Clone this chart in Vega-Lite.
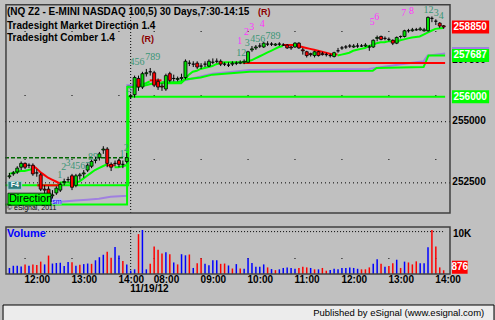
{
  "$schema": "https://vega.github.io/schema/vega-lite/v6.json",
  "width": 495,
  "height": 320,
  "autosize": {"type": "none"},
  "padding": 0,
  "background": "#c0c0c0",
  "config": {"font": "Liberation Sans", "view": {"stroke": null}},
  "datasets": {
    "hours": [{"i": 4, "lab": "12:00"}, {"i": 16, "lab": "13:00"}, {"i": 28, "lab": "14:00"}, {"i": 37, "lab": "08:00"}, {"i": 49, "lab": "09:00"}, {"i": 61, "lab": "10:00"}, {"i": 73, "lab": "11:00"}, {"i": 85, "lab": "12:00"}, {"i": 97, "lab": "13:00"}, {"i": 109, "lab": "14:00"}],
    "plabels": [{"p": 252500}, {"p": 255000}, {"p": 257500}],
    "candles": [
      {"i":0,"o":252730,"h":252886,"l":252652,"c":252769,"v":1410,"vd":"up"},
      {"i":1,"o":252847,"h":252964,"l":252769,"c":252886,"v":1920,"vd":"up"},
      {"i":2,"o":252925,"h":253159,"l":252847,"c":253081,"v":1920,"vd":"up"},
      {"i":3,"o":253120,"h":253354,"l":253003,"c":253276,"v":1730,"vd":"up"},
      {"i":4,"o":253276,"h":253315,"l":253042,"c":253120,"v":2240,"vd":"dn"},
      {"i":5,"o":253198,"h":253276,"l":253081,"c":253198,"v":1920,"vd":"up"},
      {"i":6,"o":253198,"h":253276,"l":252769,"c":252847,"v":2240,"vd":"dn"},
      {"i":7,"o":252886,"h":253042,"l":252730,"c":252886,"v":2120,"vd":"dn"},
      {"i":8,"o":252808,"h":252886,"l":252145,"c":252223,"v":2890,"vd":"dn"},
      {"i":9,"o":252223,"h":252379,"l":251989,"c":252184,"v":2240,"vd":"up"},
      {"i":10,"o":252223,"h":252340,"l":251833,"c":251911,"v":4300,"vd":"dn"},
      {"i":11,"o":251950,"h":252184,"l":251794,"c":251989,"v":2440,"vd":"up"},
      {"i":12,"o":252067,"h":252340,"l":251989,"c":252262,"v":2560,"vd":"up"},
      {"i":13,"o":252184,"h":252496,"l":252106,"c":252418,"v":2630,"vd":"up"},
      {"i":14,"o":252496,"h":252652,"l":252379,"c":252535,"v":1860,"vd":"up"},
      {"i":15,"o":252613,"h":252730,"l":252496,"c":252613,"v":2820,"vd":"up"},
      {"i":16,"o":252769,"h":252847,"l":252184,"c":252301,"v":2760,"vd":"dn"},
      {"i":17,"o":252379,"h":252847,"l":252301,"c":252769,"v":1920,"vd":"up"},
      {"i":18,"o":252769,"h":252886,"l":252613,"c":252808,"v":2180,"vd":"dn"},
      {"i":19,"o":252847,"h":253003,"l":252691,"c":252886,"v":2310,"vd":"up"},
      {"i":20,"o":253003,"h":253276,"l":252925,"c":253198,"v":2440,"vd":"up"},
      {"i":21,"o":253159,"h":253432,"l":253081,"c":253354,"v":2370,"vd":"dn"},
      {"i":22,"o":253393,"h":253549,"l":253276,"c":253432,"v":3200,"vd":"up"},
      {"i":23,"o":253510,"h":253744,"l":253393,"c":253666,"v":3910,"vd":"up"},
      {"i":24,"o":253822,"h":253978,"l":253666,"c":253861,"v":4490,"vd":"up"},
      {"i":25,"o":253861,"h":253939,"l":253120,"c":253276,"v":5190,"vd":"dn"},
      {"i":26,"o":253237,"h":253315,"l":252964,"c":253120,"v":3780,"vd":"dn"},
      {"i":27,"o":253276,"h":253393,"l":253159,"c":253276,"v":6280,"vd":"up"},
      {"i":28,"o":253393,"h":253471,"l":253120,"c":253237,"v":4300,"vd":"up"},
      {"i":29,"o":253237,"h":253393,"l":253081,"c":253237,"v":3010,"vd":"dn"},
      {"i":30,"o":253354,"h":253705,"l":253276,"c":253510,"v":2240,"vd":"up"},
      {"i":31,"o":256006,"h":256123,"l":255928,"c":256045,"v":800,"vd":"up"},
      {"i":32,"o":256084,"h":256864,"l":255967,"c":256786,"v":1090,"vd":"up"},
      {"i":33,"o":256747,"h":256864,"l":256240,"c":256396,"v":9300,"vd":"dn"},
      {"i":34,"o":256396,"h":257020,"l":256318,"c":256942,"v":10260,"vd":"up"},
      {"i":35,"o":256942,"h":257137,"l":256825,"c":256981,"v":1090,"vd":"up"},
      {"i":36,"o":257020,"h":257176,"l":256864,"c":257020,"v":2370,"vd":"dn"},
      {"i":37,"o":256981,"h":257059,"l":256396,"c":256474,"v":6410,"vd":"dn"},
      {"i":38,"o":256630,"h":256747,"l":256279,"c":256396,"v":5640,"vd":"dn"},
      {"i":39,"o":256435,"h":256552,"l":256240,"c":256396,"v":4810,"vd":"dn"},
      {"i":40,"o":256318,"h":256942,"l":256240,"c":256864,"v":5060,"vd":"up"},
      {"i":41,"o":256942,"h":257020,"l":256591,"c":256669,"v":4620,"vd":"dn"},
      {"i":42,"o":256747,"h":256903,"l":256630,"c":256747,"v":2690,"vd":"up"},
      {"i":43,"o":256708,"h":256825,"l":256630,"c":256747,"v":2240,"vd":"dn"},
      {"i":44,"o":256747,"h":256942,"l":256669,"c":256786,"v":4620,"vd":"up"},
      {"i":45,"o":256786,"h":257527,"l":256708,"c":257449,"v":4360,"vd":"up"},
      {"i":46,"o":257371,"h":257488,"l":257254,"c":257371,"v":4550,"vd":"dn"},
      {"i":47,"o":257332,"h":257449,"l":257215,"c":257332,"v":1410,"vd":"up"},
      {"i":48,"o":257371,"h":257449,"l":257137,"c":257215,"v":2500,"vd":"dn"},
      {"i":49,"o":257254,"h":257371,"l":257137,"c":257254,"v":3650,"vd":"dn"},
      {"i":50,"o":257332,"h":257449,"l":257215,"c":257332,"v":2370,"vd":"up"},
      {"i":51,"o":257254,"h":257527,"l":257215,"c":257449,"v":2050,"vd":"up"},
      {"i":52,"o":257410,"h":257566,"l":257332,"c":257410,"v":3200,"vd":"up"},
      {"i":53,"o":257449,"h":257566,"l":257371,"c":257449,"v":3200,"vd":"up"},
      {"i":54,"o":257449,"h":257527,"l":257254,"c":257332,"v":2370,"vd":"dn"},
      {"i":55,"o":257332,"h":257410,"l":257254,"c":257332,"v":2440,"vd":"dn"},
      {"i":56,"o":257293,"h":257410,"l":257215,"c":257293,"v":1990,"vd":"up"},
      {"i":57,"o":257332,"h":257449,"l":257254,"c":257371,"v":1280,"vd":"dn"},
      {"i":58,"o":257371,"h":257449,"l":257293,"c":257371,"v":2310,"vd":"up"},
      {"i":59,"o":257371,"h":257488,"l":257332,"c":257410,"v":1280,"vd":"dn"},
      {"i":60,"o":257410,"h":257527,"l":257332,"c":257449,"v":1220,"vd":"up"},
      {"i":61,"o":257410,"h":257878,"l":257371,"c":257839,"v":3650,"vd":"up"},
      {"i":62,"o":257917,"h":258073,"l":257839,"c":257956,"v":2560,"vd":"up"},
      {"i":63,"o":257995,"h":258112,"l":257917,"c":258034,"v":1670,"vd":"up"},
      {"i":64,"o":258073,"h":258190,"l":257995,"c":258073,"v":1670,"vd":"up"},
      {"i":65,"o":258034,"h":258229,"l":257995,"c":258190,"v":2240,"vd":"up"},
      {"i":66,"o":258151,"h":258268,"l":258073,"c":258151,"v":1540,"vd":"dn"},
      {"i":67,"o":258151,"h":258229,"l":258073,"c":258151,"v":1150,"vd":"up"},
      {"i":68,"o":258112,"h":258190,"l":258073,"c":258151,"v":900,"vd":"dn"},
      {"i":69,"o":258151,"h":258229,"l":258073,"c":258151,"v":1090,"vd":"up"},
      {"i":70,"o":258112,"h":258190,"l":258073,"c":258112,"v":1410,"vd":"up"},
      {"i":71,"o":258112,"h":258151,"l":257956,"c":257995,"v":1540,"vd":"up"},
      {"i":72,"o":258034,"h":258073,"l":257917,"c":257995,"v":1410,"vd":"up"},
      {"i":73,"o":258034,"h":258229,"l":257995,"c":258190,"v":1220,"vd":"up"},
      {"i":74,"o":258190,"h":258229,"l":257956,"c":257995,"v":1410,"vd":"dn"},
      {"i":75,"o":257917,"h":257995,"l":257722,"c":257878,"v":1670,"vd":"dn"},
      {"i":76,"o":257839,"h":257878,"l":257605,"c":257683,"v":1540,"vd":"dn"},
      {"i":77,"o":257761,"h":257800,"l":257644,"c":257722,"v":1410,"vd":"up"},
      {"i":78,"o":257683,"h":257878,"l":257605,"c":257839,"v":1090,"vd":"dn"},
      {"i":79,"o":257839,"h":257878,"l":257644,"c":257683,"v":1090,"vd":"up"},
      {"i":80,"o":257761,"h":257839,"l":257683,"c":257722,"v":1410,"vd":"dn"},
      {"i":81,"o":257722,"h":257800,"l":257644,"c":257722,"v":770,"vd":"dn"},
      {"i":82,"o":257683,"h":257761,"l":257605,"c":257683,"v":960,"vd":"up"},
      {"i":83,"o":257644,"h":257839,"l":257605,"c":257800,"v":1220,"vd":"up"},
      {"i":84,"o":257878,"h":257995,"l":257800,"c":257878,"v":1090,"vd":"up"},
      {"i":85,"o":257995,"h":258073,"l":257917,"c":257995,"v":1410,"vd":"up"},
      {"i":86,"o":258034,"h":258112,"l":257956,"c":258034,"v":1410,"vd":"up"},
      {"i":87,"o":258073,"h":258151,"l":257995,"c":258073,"v":1540,"vd":"up"},
      {"i":88,"o":258034,"h":258151,"l":257995,"c":258073,"v":1410,"vd":"up"},
      {"i":89,"o":258073,"h":258190,"l":257995,"c":258073,"v":1220,"vd":"up"},
      {"i":90,"o":258073,"h":258151,"l":258034,"c":258073,"v":1090,"vd":"dn"},
      {"i":91,"o":258073,"h":258190,"l":258034,"c":258112,"v":1090,"vd":"dn"},
      {"i":92,"o":258034,"h":258112,"l":257878,"c":258034,"v":1540,"vd":"dn"},
      {"i":93,"o":258034,"h":258346,"l":257995,"c":258307,"v":2370,"vd":"up"},
      {"i":94,"o":258385,"h":258502,"l":258268,"c":258424,"v":3460,"vd":"up"},
      {"i":95,"o":258463,"h":258502,"l":258307,"c":258346,"v":2370,"vd":"dn"},
      {"i":96,"o":258385,"h":258463,"l":258307,"c":258385,"v":1670,"vd":"up"},
      {"i":97,"o":258346,"h":258424,"l":258268,"c":258346,"v":1860,"vd":"dn"},
      {"i":98,"o":258307,"h":258346,"l":258112,"c":258190,"v":2500,"vd":"dn"},
      {"i":99,"o":258190,"h":258463,"l":258151,"c":258424,"v":3330,"vd":"up"},
      {"i":100,"o":258463,"h":258502,"l":258385,"c":258463,"v":1410,"vd":"dn"},
      {"i":101,"o":258463,"h":258736,"l":258424,"c":258697,"v":2890,"vd":"up"},
      {"i":102,"o":258697,"h":258775,"l":258619,"c":258697,"v":2690,"vd":"dn"},
      {"i":103,"o":258697,"h":258814,"l":258658,"c":258736,"v":2240,"vd":"dn"},
      {"i":104,"o":258736,"h":258814,"l":258697,"c":258736,"v":2950,"vd":"dn"},
      {"i":105,"o":258736,"h":258853,"l":258697,"c":258775,"v":2500,"vd":"up"},
      {"i":106,"o":258697,"h":258814,"l":258658,"c":258736,"v":2500,"vd":"up"},
      {"i":107,"o":258697,"h":259282,"l":258658,"c":259243,"v":6220,"vd":"up"},
      {"i":108,"o":259204,"h":259282,"l":259048,"c":259204,"v":10260,"vd":"dn"},
      {"i":109,"o":259087,"h":259165,"l":258931,"c":259087,"v":6410,"vd":"dn"},
      {"i":110,"o":259009,"h":259048,"l":258814,"c":258892,"v":1540,"vd":"dn"},
      {"i":111,"o":258900,"h":258931,"l":258775,"c":258850,"v":876,"vd":"dn"}
    ],
    "levels": [
      {"id":"a_pu","kind":"avg","i":11,"p":251677},{"id":"a_pu","kind":"avg","i":14,"p":251716},{"id":"a_pu","kind":"avg","i":17,"p":251755},{"id":"a_pu","kind":"avg","i":20,"p":251794},{"id":"a_pu","kind":"avg","i":23,"p":251833},{"id":"a_pu","kind":"avg","i":26,"p":251911},{"id":"a_pu","kind":"avg","i":30.2,"p":251950},{"id":"a_pu","kind":"avg","i":30.25,"p":256474},{"id":"a_pu","kind":"avg","i":34,"p":256474},{"id":"a_pu","kind":"avg","i":37,"p":256552},{"id":"a_pu","kind":"avg","i":44,"p":256630},{"id":"a_pu","kind":"avg","i":49,"p":256825},{"id":"a_pu","kind":"avg","i":52,"p":256942},{"id":"a_pu","kind":"avg","i":57.25,"p":257020},{"id":"a_pu","kind":"avg","i":61.5,"p":257098},{"id":"a_pu","kind":"avg","i":92,"p":257137},{"id":"a_pu","kind":"avg","i":100.25,"p":257332},{"id":"a_pu","kind":"avg","i":106,"p":257449},{"id":"a_pu","kind":"avg","i":107,"p":257683},{"id":"a_pu","kind":"avg","i":111.5,"p":257770},
      {"id":"b_cl","kind":"up","i":-1,"p":251599},{"id":"b_cl","kind":"up","i":30.2,"p":251599},{"id":"b_cl","kind":"up","i":30.25,"p":256396},{"id":"b_cl","kind":"up","i":32,"p":256396},{"id":"b_cl","kind":"up","i":35,"p":256474},{"id":"b_cl","kind":"up","i":37,"p":256552},{"id":"b_cl","kind":"up","i":44,"p":256552},{"id":"b_cl","kind":"up","i":45,"p":256708},{"id":"b_cl","kind":"up","i":49,"p":256786},{"id":"b_cl","kind":"up","i":52,"p":256903},{"id":"b_cl","kind":"up","i":61.5,"p":257020},{"id":"b_cl","kind":"up","i":93,"p":257059},{"id":"b_cl","kind":"up","i":94,"p":257176},{"id":"b_cl","kind":"up","i":106,"p":257215},{"id":"b_cl","kind":"up","i":107.25,"p":257687},{"id":"b_cl","kind":"up","i":111.5,"p":257687},
      {"id":"c_dir","kind":"up","i":-1,"p":252379},{"id":"c_dir","kind":"up","i":30.5,"p":252379},{"id":"c_dir","kind":"up","i":30.55,"p":256000},{"id":"c_dir","kind":"up","i":111.5,"p":256000},
      {"id":"d_dirs","kind":"dn","i":7.25,"p":252379},{"id":"d_dirs","kind":"dn","i":12.75,"p":252379},
      {"id":"e_rh","kind":"dn","i":59.75,"p":257375},{"id":"e_rh","kind":"dn","i":111.5,"p":257375}
    ],
    "stop": [
      {"seg":1,"st":"up","i":0,"p":252847},{"seg":1,"st":"up","i":1,"p":252886},{"seg":1,"st":"up","i":2,"p":252925},{"seg":1,"st":"up","i":3,"p":252964},{"seg":1,"st":"up","i":4,"p":252964},{"seg":1,"st":"up","i":5,"p":253003},{"seg":1,"st":"up","i":6,"p":253042},
      {"seg":2,"st":"dn","i":6,"p":253198},{"seg":2,"st":"dn","i":7,"p":253081},{"seg":2,"st":"dn","i":8,"p":252925},{"seg":2,"st":"dn","i":9,"p":252808},{"seg":2,"st":"dn","i":10,"p":252691},{"seg":2,"st":"dn","i":11,"p":252613},{"seg":2,"st":"dn","i":12,"p":252535},{"seg":2,"st":"dn","i":13,"p":252457},
      {"seg":3,"st":"up","i":13,"p":252496},{"seg":3,"st":"up","i":17,"p":252496},{"seg":3,"st":"up","i":18,"p":252535},{"seg":3,"st":"up","i":19,"p":252652},{"seg":3,"st":"up","i":20,"p":252769},{"seg":3,"st":"up","i":21,"p":252886},{"seg":3,"st":"up","i":22,"p":253003},{"seg":3,"st":"up","i":23,"p":253081},{"seg":3,"st":"up","i":24,"p":253159},{"seg":3,"st":"up","i":25,"p":253237},
      {"seg":4,"st":"dn","i":25,"p":253198},{"seg":4,"st":"dn","i":27,"p":253198},
      {"seg":5,"st":"up","i":27,"p":253120},{"seg":5,"st":"up","i":28,"p":253120},{"seg":5,"st":"up","i":29,"p":253159},{"seg":5,"st":"up","i":30,"p":253198},
      {"seg":6,"st":"up","i":32,"p":256435},{"seg":6,"st":"up","i":33,"p":256474},{"seg":6,"st":"up","i":34,"p":256513},{"seg":6,"st":"up","i":35,"p":256552},{"seg":6,"st":"up","i":36,"p":256630},
      {"seg":7,"st":"dn","i":36,"p":256669},{"seg":7,"st":"dn","i":39,"p":256669},
      {"seg":8,"st":"up","i":39,"p":256591},{"seg":8,"st":"up","i":43,"p":256591},{"seg":8,"st":"up","i":44,"p":256630},{"seg":8,"st":"up","i":45,"p":256708},{"seg":8,"st":"up","i":46,"p":256903},{"seg":8,"st":"up","i":47,"p":257020},{"seg":8,"st":"up","i":48,"p":257059},{"seg":8,"st":"up","i":49,"p":257137},{"seg":8,"st":"up","i":50,"p":257176},{"seg":8,"st":"up","i":51,"p":257215},{"seg":8,"st":"up","i":52,"p":257254},{"seg":8,"st":"up","i":53,"p":257332},{"seg":8,"st":"up","i":54,"p":257371},{"seg":8,"st":"up","i":55,"p":257410},{"seg":8,"st":"up","i":60,"p":257410},{"seg":8,"st":"up","i":61,"p":257449},{"seg":8,"st":"up","i":62,"p":257488},{"seg":8,"st":"up","i":63,"p":257566},{"seg":8,"st":"up","i":64,"p":257644},{"seg":8,"st":"up","i":65,"p":257722},{"seg":8,"st":"up","i":66,"p":257800},{"seg":8,"st":"up","i":67,"p":257878},{"seg":8,"st":"up","i":68,"p":257956},{"seg":8,"st":"up","i":69,"p":258034},{"seg":8,"st":"up","i":70,"p":258073},
      {"seg":9,"st":"dn","i":70,"p":258112},{"seg":9,"st":"dn","i":73,"p":258112},{"seg":9,"st":"dn","i":74,"p":258073},{"seg":9,"st":"dn","i":75,"p":258034},{"seg":9,"st":"dn","i":76,"p":257995},{"seg":9,"st":"dn","i":77,"p":257956},{"seg":9,"st":"dn","i":78,"p":257917},{"seg":9,"st":"dn","i":79,"p":257878},{"seg":9,"st":"dn","i":80,"p":257839},{"seg":9,"st":"dn","i":81,"p":257800},{"seg":9,"st":"dn","i":82,"p":257761},{"seg":9,"st":"dn","i":83,"p":257722},{"seg":9,"st":"dn","i":84,"p":257722},
      {"seg":10,"st":"up","i":84,"p":257683},{"seg":10,"st":"up","i":85,"p":257722},{"seg":10,"st":"up","i":86,"p":257761},{"seg":10,"st":"up","i":87,"p":257800},{"seg":10,"st":"up","i":88,"p":257878},{"seg":10,"st":"up","i":89,"p":257917},{"seg":10,"st":"up","i":90,"p":257956},{"seg":10,"st":"up","i":91,"p":257995},{"seg":10,"st":"up","i":92,"p":258073},{"seg":10,"st":"up","i":93,"p":258112},{"seg":10,"st":"up","i":94,"p":258190},{"seg":10,"st":"up","i":95,"p":258229},{"seg":10,"st":"up","i":96,"p":258229},{"seg":10,"st":"up","i":97,"p":258268},{"seg":10,"st":"up","i":98,"p":258268},
      {"seg":11,"st":"dn","i":98,"p":258268},{"seg":11,"st":"dn","i":99,"p":258268},
      {"seg":12,"st":"up","i":99,"p":258229},{"seg":12,"st":"up","i":100,"p":258307},{"seg":12,"st":"up","i":101,"p":258346},{"seg":12,"st":"up","i":102,"p":258385},{"seg":12,"st":"up","i":103,"p":258424},{"seg":12,"st":"up","i":105,"p":258463},{"seg":12,"st":"up","i":106,"p":258541},{"seg":12,"st":"up","i":107,"p":258619},{"seg":12,"st":"up","i":108,"p":258697},{"seg":12,"st":"up","i":109,"p":258775},{"seg":12,"st":"up","i":111,"p":258814}
    ],
    "counts": [
      {"i":13,"p":252808,"t":"1","k":"c"},{"i":14,"p":253120,"t":"2","k":"c"},{"i":15.1,"p":253276,"t":"3","k":"c"},{"i":18.25,"p":253159,"t":"4567","k":"c"},{"i":21.5,"p":253549,"t":"89","k":"c"},{"i":28.9,"p":253666,"t":"1","k":"c"},{"i":30,"p":253900,"t":"2","k":"c"},
      {"i":30.75,"p":256318,"t":"3","k":"c"},{"i":32.75,"p":257410,"t":"456","k":"c"},{"i":36.75,"p":257644,"t":"789","k":"c"},
      {"i":59.4,"p":257800,"t":"12","k":"c"},{"i":60.9,"p":258190,"t":"3","k":"c"},{"i":63.6,"p":258346,"t":"456","k":"c"},{"i":67.5,"p":258502,"t":"789","k":"c"},
      {"i":107.25,"p":259555,"t":"12","k":"c"},{"i":109.25,"p":259438,"t":"3","k":"c"},{"i":110.5,"p":259282,"t":"4","k":"c"},
      {"i":59,"p":258268,"t":"1","k":"m"},{"i":60.75,"p":258658,"t":"2","k":"m"},{"i":62.1,"p":258853,"t":"3","k":"m"},{"i":64.75,"p":258970,"t":"4","k":"m"},{"i":92.9,"p":259048,"t":"5","k":"m"},{"i":94,"p":259243,"t":"6","k":"m"},{"i":100.9,"p":259438,"t":"7","k":"m"},{"i":102.9,"p":259516,"t":"8","k":"m"}
    ],
    "signals": [
      {"i":35.5,"p":258346,"t":"(R)"},{"i":65.25,"p":259477,"t":"(R)"}
    ],
    "tags": [
      {"p":257770,"t":"","k":"avg"},{"p":257687,"t":"257687","k":"up"},{"p":256000,"t":"256000","k":"up"},{"p":258850,"t":"258850","k":"dn"}
    ]
  },
  "resolve": {"scale": {"y": "independent"}},
  "layer": [
    {
      "layer": [
        {
          "data": {"name": "hours"},
          "mark": {"type": "rule", "color": "black", "strokeWidth": 1, "strokeDash": [1, 63], "strokeDashOffset": 38, "xOffset": 0.5},
          "encoding": {
            "x": {"field": "i", "type": "quantitative", "scale": {"domain": [-1, 112.75], "range": [0, 455], "nice": false, "zero": false}, "axis": null},
            "y": {"datum": 259750, "type": "quantitative", "scale": {"domain": [251248, 259750], "range": [218, 0], "nice": false, "zero": false}, "axis": null},
            "y2": {"datum": 251248}
          }
        },
        {
          "data": {"values": [{"p": 252500}, {"p": 255000}]},
          "mark": {"type": "rule", "color": "black", "strokeWidth": 1, "strokeDash": [1, 3], "yOffset": 0.5},
          "encoding": {"x": {"datum": -1, "type": "quantitative", "axis": null}, "x2": {"datum": 112.75}, "y": {"field": "p", "type": "quantitative", "axis": null}}
        },
        {
          "data": {"values": [{}]},
          "mark": {"type": "rule", "color": "black", "strokeWidth": 1, "strokeDash": [1, 2], "xOffset": 0.5},
          "encoding": {"x": {"datum": 31, "type": "quantitative", "axis": null}, "y": {"datum": 259750, "type": "quantitative", "axis": null}, "y2": {"datum": 251248}}
        },
        {
          "data": {"values": [{}]},
          "mark": {"type": "rule", "color": "#006400", "strokeWidth": 1.5, "strokeDash": [4, 2]},
          "encoding": {"x": {"datum": -1, "type": "quantitative", "axis": null}, "x2": {"datum": 30.3}, "y": {"datum": 253510, "type": "quantitative", "axis": null}}
        },
        {
          "data": {"name": "levels"},
          "mark": {"type": "line", "strokeWidth": 2},
          "encoding": {
            "x": {"field": "i", "type": "quantitative", "axis": null},
            "y": {"field": "p", "type": "quantitative", "axis": null},
            "detail": {"field": "id"},
            "color": {"field": "kind", "type": "nominal", "scale": {"domain": ["up", "dn", "avg"], "range": ["#00ff00", "#ff0000", "#a080e0"]}, "legend": null}
          }
        },
        {
          "data": {"name": "stop"},
          "mark": {"type": "line", "strokeWidth": 2},
          "encoding": {
            "x": {"field": "i", "type": "quantitative", "axis": null},
            "y": {"field": "p", "type": "quantitative", "axis": null},
            "detail": {"field": "seg"},
            "color": {"field": "st", "type": "nominal", "legend": null}
          }
        },
        {
          "data": {"name": "candles"},
          "mark": {"type": "rule", "color": "black", "strokeWidth": 1, "xOffset": 0.5},
          "encoding": {
            "x": {"field": "i", "type": "quantitative", "axis": null},
            "y": {"field": "l", "type": "quantitative", "axis": null},
            "y2": {"field": "h"}
          }
        },
        {
          "data": {"name": "candles"},
          "mark": {"type": "bar", "width": 3, "stroke": "black", "strokeWidth": 0.8, "xOffset": 0.5},
          "encoding": {
            "x": {"field": "i", "type": "quantitative", "axis": null},
            "y": {"field": "o", "type": "quantitative", "axis": null},
            "y2": {"field": "c"},
            "color": {"condition": [{"test": "datum.c > datum.o", "value": "#00e000"}, {"test": "datum.c < datum.o", "value": "#ff0000"}], "value": "#000000"}
          }
        },
        {
          "data": {"name": "counts"},
          "mark": {"type": "text", "fontSize": 10, "font": "Liberation Sans Narrow", "align": "center", "baseline": "middle"},
          "encoding": {
            "x": {"field": "i", "type": "quantitative", "axis": null},
            "y": {"field": "p", "type": "quantitative", "axis": null},
            "text": {"field": "t"},
            "color": {"condition": {"test": "datum.k == 'm'", "value": "#ff33ff"}, "value": "#3a9676"}
          }
        },
        {
          "data": {"name": "signals"},
          "mark": {"type": "text", "fontSize": 9, "fontWeight": "bold", "align": "center", "baseline": "middle", "color": "#8b0000"},
          "encoding": {
            "x": {"field": "i", "type": "quantitative", "axis": null},
            "y": {"field": "p", "type": "quantitative", "axis": null},
            "text": {"field": "t"}
          }
        },
        {
          "data": {"values": [{}]},
          "mark": {"type": "text", "align": "left", "baseline": "middle", "fontSize": 10, "fontWeight": "bold", "color": "black"},
          "encoding": {"x": {"datum": -0.5, "type": "quantitative", "axis": null}, "y": {"datum": 259458, "type": "quantitative", "axis": null}, "text": {"value": "(NQ Z2 - E-MINI NASDAQ 100,5) 30 Days,7:30-14:15"}}
        },
        {
          "data": {"values": [{}]},
          "mark": {"type": "text", "align": "left", "baseline": "middle", "fontSize": 10, "fontWeight": "bold", "color": "black"},
          "encoding": {"x": {"datum": -0.5, "type": "quantitative", "axis": null}, "y": {"datum": 258912, "type": "quantitative", "axis": null}, "text": {"value": "Tradesight Market Direction 1.4"}}
        },
        {
          "data": {"values": [{}]},
          "mark": {"type": "text", "align": "left", "baseline": "middle", "fontSize": 10, "fontWeight": "bold", "color": "black"},
          "encoding": {"x": {"datum": -0.5, "type": "quantitative", "axis": null}, "y": {"datum": 258385, "type": "quantitative", "axis": null}, "text": {"value": "Tradesight Comber 1.4"}}
        },
        {
          "data": {"values": [{}]},
          "mark": {"type": "bar", "height": 8, "fill": "#2e7d7d", "stroke": "#a0d0d0", "strokeWidth": 1},
          "encoding": {"x": {"datum": -0.25, "type": "quantitative", "axis": null}, "x2": {"datum": 3.25}, "y": {"datum": 252379, "type": "quantitative", "axis": null}}
        },
        {
          "data": {"values": [{}]},
          "mark": {"type": "text", "align": "center", "baseline": "middle", "fontSize": 7, "fontWeight": "bold", "color": "white"},
          "encoding": {"x": {"datum": 1.5, "type": "quantitative", "axis": null}, "y": {"datum": 252379, "type": "quantitative", "axis": null}, "text": {"value": "F4"}}
        },
        {
          "data": {"values": [{}]},
          "mark": {"type": "bar", "height": 12, "fill": "#00ff00", "stroke": "black", "strokeWidth": 0.8},
          "encoding": {"x": {"datum": -0.25, "type": "quantitative", "axis": null}, "x2": {"datum": 10.75}, "y": {"datum": 251813, "type": "quantitative", "axis": null}}
        },
        {
          "data": {"values": [{}]},
          "mark": {"type": "text", "align": "left", "baseline": "middle", "fontSize": 11, "color": "black"},
          "encoding": {"x": {"datum": 0, "type": "quantitative", "axis": null}, "y": {"datum": 251813, "type": "quantitative", "axis": null}, "text": {"value": "Direction"}}
        },
        {
          "data": {"values": [{}]},
          "mark": {"type": "bar", "height": 6, "fill": "#b8b8f0"},
          "encoding": {"x": {"datum": 11, "type": "quantitative", "axis": null}, "x2": {"datum": 13.5}, "y": {"datum": 251716, "type": "quantitative", "axis": null}}
        },
        {
          "data": {"values": [{}]},
          "mark": {"type": "text", "align": "center", "baseline": "middle", "fontSize": 7, "color": "#0000ff"},
          "encoding": {"x": {"datum": 12.25, "type": "quantitative", "axis": null}, "y": {"datum": 251716, "type": "quantitative", "axis": null}, "text": {"value": "sm"}}
        },
        {
          "data": {"values": [{}]},
          "mark": {"type": "text", "align": "left", "baseline": "middle", "fontSize": 7, "color": "black"},
          "encoding": {"x": {"datum": -0.5, "type": "quantitative", "axis": null}, "y": {"datum": 251443, "type": "quantitative", "axis": null}, "text": {"value": "© eSignal, 2011"}}
        },
        {
          "data": {"name": "plabels"},
          "mark": {"type": "text", "align": "left", "baseline": "middle", "fontSize": 10, "fontWeight": "bold", "color": "black"},
          "encoding": {
            "x": {"datum": 113.35, "type": "quantitative", "axis": null},
            "y": {"field": "p", "type": "quantitative", "axis": null},
            "text": {"field": "p", "type": "quantitative", "format": "d"}
          }
        },
        {
          "data": {"name": "tags"},
          "mark": {"type": "bar", "height": 13},
          "encoding": {
            "x": {"datum": 113.25, "type": "quantitative", "axis": null},
            "x2": {"datum": 122.75},
            "y": {"field": "p", "type": "quantitative", "axis": null},
            "color": {"field": "k", "type": "nominal", "legend": null}
          }
        },
        {
          "data": {"name": "tags"},
          "mark": {"type": "text", "align": "center", "baseline": "middle", "fontSize": 10, "fontWeight": "bold", "color": "white"},
          "encoding": {
            "x": {"datum": 117.9, "type": "quantitative", "axis": null},
            "y": {"field": "p", "type": "quantitative", "axis": null},
            "text": {"field": "t"}
          }
        },
        {
          "data": {"values": [{}]},
          "mark": {"type": "rect", "filled": false, "color": "#404040", "strokeWidth": 1.5},
          "encoding": {"x": {"datum": -0.75, "type": "quantitative", "axis": null}, "x2": {"datum": 112.75}, "y": {"datum": 259760, "type": "quantitative", "axis": null}, "y2": {"datum": 251248}}
        }
      ]
    },
    {
      "layer": [
        {
          "data": {"name": "hours"},
          "mark": {"type": "rule", "color": "black", "strokeWidth": 1, "strokeDash": [1, 63], "strokeDashOffset": 33, "xOffset": 0.5},
          "encoding": {
            "x": {"field": "i", "type": "quantitative", "axis": null},
            "y": {"datum": 10962, "type": "quantitative", "scale": {"domain": [0, 10962], "range": [279, 222], "nice": false, "zero": false}, "axis": null},
            "y2": {"datum": 0}
          }
        },
        {
          "data": {"values": [{}]},
          "mark": {"type": "rule", "color": "black", "strokeWidth": 1, "strokeDash": [1, 2], "xOffset": 0.5},
          "encoding": {"x": {"datum": 31, "type": "quantitative", "axis": null}, "y": {"datum": 10962, "type": "quantitative", "axis": null}, "y2": {"datum": 0}}
        },
        {
          "data": {"values": [{}]},
          "mark": {"type": "rule", "color": "black", "strokeWidth": 1, "strokeDash": [1, 2], "yOffset": 0.5},
          "encoding": {"x": {"datum": 9.5, "type": "quantitative", "axis": null}, "x2": {"datum": 111.5}, "y": {"datum": 10000, "type": "quantitative", "axis": null}}
        },
        {
          "data": {"name": "candles"},
          "mark": {"type": "rule", "strokeWidth": 1.5, "xOffset": 0.5},
          "encoding": {
            "x": {"field": "i", "type": "quantitative", "axis": null},
            "y": {"field": "v", "type": "quantitative", "axis": null},
            "y2": {"datum": 0},
            "color": {"condition": {"test": "datum.vd == 'up'", "value": "#0000ff"}, "value": "#ff0000"}
          }
        },
        {
          "data": {"values": [{}]},
          "mark": {"type": "text", "align": "left", "baseline": "middle", "fontSize": 11, "fontWeight": "bold", "color": "#0000ff"},
          "encoding": {"x": {"datum": -0.5, "type": "quantitative", "axis": null}, "y": {"datum": 9327, "type": "quantitative", "axis": null}, "text": {"value": "Volume"}}
        },
        {
          "data": {"values": [{}]},
          "mark": {"type": "text", "align": "left", "baseline": "middle", "fontSize": 10, "fontWeight": "bold", "color": "black", "dy": 3},
          "encoding": {"x": {"datum": 113.5, "type": "quantitative", "axis": null}, "y": {"datum": 10000, "type": "quantitative", "axis": null}, "text": {"value": "10K"}}
        },
        {
          "data": {"values": [{}]},
          "mark": {"type": "bar", "height": 13, "fill": "#ff0000", "yOffset": -3},
          "encoding": {"x": {"datum": 113.25, "type": "quantitative", "axis": null}, "x2": {"datum": 117.25}, "y": {"datum": 876, "type": "quantitative", "axis": null}}
        },
        {
          "data": {"values": [{}]},
          "mark": {"type": "text", "align": "center", "baseline": "middle", "fontSize": 10, "fontWeight": "bold", "color": "white", "yOffset": -3},
          "encoding": {"x": {"datum": 115.25, "type": "quantitative", "axis": null}, "y": {"datum": 876, "type": "quantitative", "axis": null}, "text": {"value": "876"}}
        },
        {
          "data": {"name": "hours"},
          "mark": {"type": "text", "align": "left", "baseline": "middle", "fontSize": 10, "fontWeight": "bold", "color": "black"},
          "encoding": {"x": {"field": "i", "type": "quantitative", "axis": null}, "y": {"datum": -1346, "type": "quantitative", "axis": null}, "text": {"field": "lab"}}
        },
        {
          "data": {"values": [{}]},
          "mark": {"type": "text", "align": "left", "baseline": "middle", "fontSize": 10, "fontWeight": "bold", "color": "black"},
          "encoding": {"x": {"datum": 31, "type": "quantitative", "axis": null}, "y": {"datum": -3558, "type": "quantitative", "axis": null}, "text": {"value": "11/19/12"}}
        },
        {
          "data": {"values": [{}]},
          "mark": {"type": "rect", "filled": false, "color": "#404040", "strokeWidth": 1.5},
          "encoding": {"x": {"datum": -0.75, "type": "quantitative", "axis": null}, "x2": {"datum": 112.75}, "y": {"datum": 10962, "type": "quantitative", "axis": null}, "y2": {"datum": 0}}
        }
      ]
    },
    {
      "layer": [
        {
          "data": {"values": [{}]},
          "mark": {"type": "rect", "fill": "#ececec", "stroke": "black", "strokeWidth": 1},
          "encoding": {
            "x": {"datum": -1.5, "type": "quantitative", "axis": null},
            "x2": {"datum": 124},
            "y": {"datum": 1, "type": "quantitative", "scale": {"domain": [0, 1], "range": [320, 305], "nice": false, "zero": false}, "axis": null},
            "y2": {"datum": -0.5}
          }
        },
        {
          "data": {"values": [{}]},
          "mark": {"type": "text", "align": "right", "baseline": "middle", "fontSize": 9.5, "color": "black"},
          "encoding": {"x": {"datum": 121.5, "type": "quantitative", "axis": null}, "y": {"datum": 0.5, "type": "quantitative", "axis": null}, "text": {"value": "Published by eSignal (www.esignal.com)"}}
        }
      ]
    }
  ]
}
